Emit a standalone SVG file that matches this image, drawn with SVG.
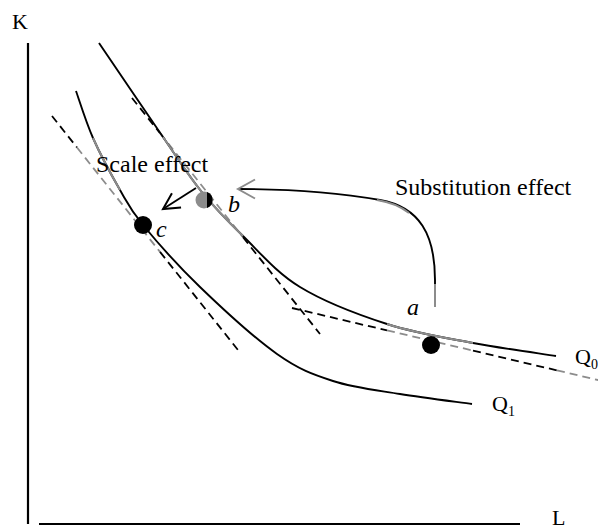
<svg xmlns="http://www.w3.org/2000/svg" width="598" height="531" viewBox="0 0 598 531">
<style>
  .t { font-family: "Liberation Serif", "Times New Roman", serif; fill: #000; }
  .it { font-style: italic; }
  .axis { stroke: #000; stroke-width: 2.2; fill: none; }
  .curve { stroke: #000; stroke-width: 1.9; fill: none; }
  .hl { stroke: #8c8c8c; stroke-width: 2; fill: none; }
  .dash { stroke: #000; stroke-width: 1.8; fill: none; stroke-dasharray: 8 5; }
  .dashg { stroke: #8c8c8c; stroke-width: 1.8; fill: none; stroke-dasharray: 8 5; }
  .arrow { stroke: #000; stroke-width: 1.9; fill: none; }
</style>
<defs>
  <marker id="headGray" markerUnits="userSpaceOnUse" orient="auto" markerWidth="40" markerHeight="40" viewBox="-20 -20 40 40" refX="0" refY="0" overflow="visible">
    <path d="M-17,-9.5 L0,0 L-17,9.5" fill="none" stroke="#8c8c8c" stroke-width="2"/>
  </marker>
  <marker id="headBlack" markerUnits="userSpaceOnUse" orient="auto" markerWidth="40" markerHeight="40" viewBox="-20 -20 40 40" refX="0" refY="0" overflow="visible">
    <path d="M-16,-8.5 L0,0 L-16,8.5" fill="none" stroke="#000" stroke-width="2"/>
  </marker>
</defs>

<g id="axes">
  <line class="axis" x1="28" y1="43" x2="28" y2="524"/>
  <line class="axis" x1="39" y1="524" x2="520" y2="524"/>
  <text class="t" x="12" y="29" font-size="22">K</text>
  <text class="t" x="552" y="525" font-size="22">L</text>
</g>

<g id="tangents">
  <line class="dash" x1="52" y1="116" x2="77" y2="147.5"/>
  <line class="dashg" x1="77" y1="147.5" x2="160" y2="251.9"/>
  <line class="dash" x1="160" y1="251.9" x2="238" y2="350"/>

  <line class="dash" x1="132" y1="98" x2="160" y2="133.1"/>
  <line class="dashg" x1="160" y1="133.1" x2="243" y2="237.3"/>
  <line class="dash" x1="243" y1="237.3" x2="320" y2="334"/>

  <line class="dash" x1="292" y1="308" x2="387" y2="330.4"/>
  <line class="dashg" x1="387" y1="330.4" x2="473" y2="350.6"/>
  <line class="dash" x1="473" y1="350.6" x2="557" y2="370.4"/>
  <line class="dashg" x1="557" y1="370.4" x2="600" y2="380.5"/>
</g>

<g id="Q0">
  <path class="curve" d="M99,43 C109.7,58.7 146,112.3 163,137 C180,161.7 187.7,174.5 201,191 C214.3,207.5 226.5,220 243,236 C259.5,252 276,272.3 300,287 C324,301.7 358.2,314.7 387,324 C415.8,333.3 444.8,337.7 473,343 C501.2,348.3 542.2,353.8 556,356"/>
  <path class="hl" d="M163,137 C180,161.7 187.7,174.5 201,191 C214.3,207.5 226.5,220 243,236"/>
  <path class="hl" d="M387,324 C415.8,333.3 444.8,337.7 473,343"/>
  <text class="t" x="575" y="364" font-size="22">Q<tspan font-size="14" dy="5">0</tspan></text>
</g>

<g id="Q1">
  <path class="curve" d="M76,91 C78.8,98.8 85.7,121.5 93,138 C100.3,154.5 111.7,175.5 120,190 C128.3,204.5 129.7,208.8 143,225 C156.3,241.2 177.7,265.5 200,287 C222.3,308.5 254.8,338.3 277,354 C299.2,369.7 312.5,374.3 333,381 C353.5,387.7 376.8,390.2 400,394 C423.2,397.8 460,402.3 472,404"/>
  <path class="hl" d="M93,138 C100.3,154.5 111.7,175.5 120,190"/>
  <text class="t" x="492" y="411" font-size="22">Q<tspan font-size="14" dy="5">1</tspan></text>
</g>

<g id="connectors">
  <path class="arrow" d="M435,307 L435,280 C435,235 420,207 380,200 C340,193 290,189 238,189" marker-end="url(#headGray)"/>
  <path class="hl" d="M435,307 L435,284"/>
  <path class="hl" d="M409,213 C400,206 390,202 377,200"/>
  <path class="arrow" d="M196,188 L163,209" marker-end="url(#headBlack)"/>
</g>

<g id="point-a">
  <circle cx="431" cy="345" r="9" fill="#000"/>
  <text class="t it" x="407" y="315" font-size="24">a</text>
</g>
<g id="point-b">
  <circle cx="204" cy="200" r="8.5" fill="#8c8c8c"/>
  <path d="M207,192 A8.5,8.5 0 0 1 207,208 Z" fill="#000"/>
  <text class="t it" x="228" y="212" font-size="24">b</text>
</g>
<g id="point-c">
  <circle cx="143" cy="225" r="9" fill="#000"/>
  <text class="t it" x="156" y="237" font-size="24">c</text>
</g>

<g id="labels">
  <text class="t" x="96" y="172" font-size="24">Scale effect</text>
  <text class="t" x="395" y="195" font-size="24">Substitution effect</text>
</g>
</svg>
